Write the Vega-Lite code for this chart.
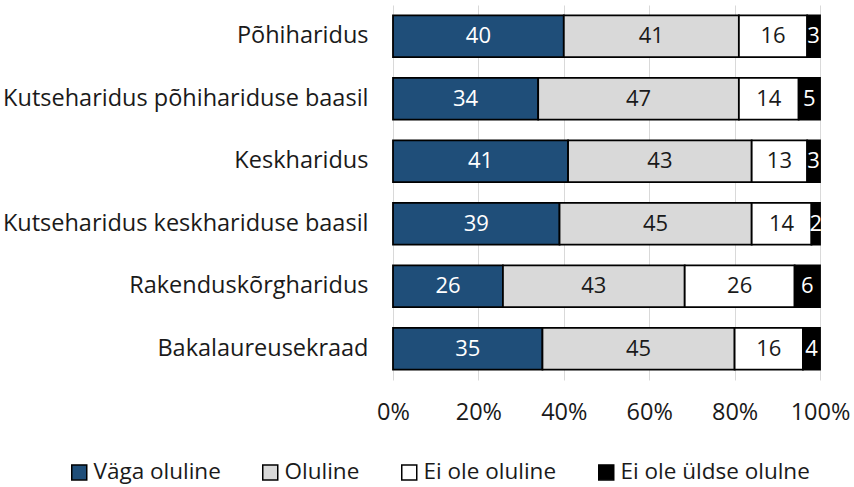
{
  "$schema": "https://vega.github.io/schema/vega-lite/v6.json",
  "width": 427,
  "height": 375,
  "padding": {"left": 2, "top": 5, "right": 30, "bottom": 5},
  "config": {"font": "Open Sans", "view": {"stroke": null}, "text": {"font": "Open Sans"}},
  "data": {
    "values": [
      {"cat": "Põhiharidus", "resp": "Väga oluline", "k": 1, "value": 40},
      {"cat": "Põhiharidus", "resp": "Oluline", "k": 2, "value": 41},
      {"cat": "Põhiharidus", "resp": "Ei ole oluline", "k": 3, "value": 16},
      {"cat": "Põhiharidus", "resp": "Ei ole üldse olulne", "k": 4, "value": 3},
      {"cat": "Kutseharidus põhihariduse baasil", "resp": "Väga oluline", "k": 1, "value": 34},
      {"cat": "Kutseharidus põhihariduse baasil", "resp": "Oluline", "k": 2, "value": 47},
      {"cat": "Kutseharidus põhihariduse baasil", "resp": "Ei ole oluline", "k": 3, "value": 14},
      {"cat": "Kutseharidus põhihariduse baasil", "resp": "Ei ole üldse olulne", "k": 4, "value": 5},
      {"cat": "Keskharidus", "resp": "Väga oluline", "k": 1, "value": 41},
      {"cat": "Keskharidus", "resp": "Oluline", "k": 2, "value": 43},
      {"cat": "Keskharidus", "resp": "Ei ole oluline", "k": 3, "value": 13},
      {"cat": "Keskharidus", "resp": "Ei ole üldse olulne", "k": 4, "value": 3},
      {"cat": "Kutseharidus keskhariduse baasil", "resp": "Väga oluline", "k": 1, "value": 39},
      {"cat": "Kutseharidus keskhariduse baasil", "resp": "Oluline", "k": 2, "value": 45},
      {"cat": "Kutseharidus keskhariduse baasil", "resp": "Ei ole oluline", "k": 3, "value": 14},
      {"cat": "Kutseharidus keskhariduse baasil", "resp": "Ei ole üldse olulne", "k": 4, "value": 2},
      {"cat": "Rakenduskõrgharidus", "resp": "Väga oluline", "k": 1, "value": 26},
      {"cat": "Rakenduskõrgharidus", "resp": "Oluline", "k": 2, "value": 43},
      {"cat": "Rakenduskõrgharidus", "resp": "Ei ole oluline", "k": 3, "value": 26},
      {"cat": "Rakenduskõrgharidus", "resp": "Ei ole üldse olulne", "k": 4, "value": 6},
      {"cat": "Bakalaureusekraad", "resp": "Väga oluline", "k": 1, "value": 35},
      {"cat": "Bakalaureusekraad", "resp": "Oluline", "k": 2, "value": 45},
      {"cat": "Bakalaureusekraad", "resp": "Ei ole oluline", "k": 3, "value": 16},
      {"cat": "Bakalaureusekraad", "resp": "Ei ole üldse olulne", "k": 4, "value": 4}
    ]
  },
  "transform": [
    {"stack": "value", "groupby": ["cat"], "sort": [{"field": "k", "order": "ascending"}], "offset": "normalize", "as": ["x0", "x1"]},
    {"calculate": "(datum.x0 + datum.x1) / 2", "as": "xm"}
  ],
  "encoding": {
    "y": {
      "field": "cat",
      "type": "nominal",
      "sort": ["Põhiharidus", "Kutseharidus põhihariduse baasil", "Keskharidus", "Kutseharidus keskhariduse baasil", "Rakenduskõrgharidus", "Bakalaureusekraad"],
      "scale": {"paddingInner": 0.33, "paddingOuter": 0.165},
      "axis": {"title": null, "ticks": false, "domain": false, "labelPadding": 25, "labelFontSize": 23.5, "labelColor": "#1a1a1a", "labelLimit": 500}
    }
  },
  "layer": [
    {
      "mark": {"type": "bar", "stroke": "#000000", "strokeWidth": 1.8},
      "encoding": {
        "x": {
          "field": "x0", "type": "quantitative",
          "scale": {"domain": [0, 1], "nice": false},
          "axis": {"title": null, "format": ".0%", "values": [0, 0.2, 0.4, 0.6, 0.8, 1], "ticks": false, "domain": false, "grid": true, "gridColor": "#d9d9d9", "gridWidth": 1, "labelPadding": 20, "labelFontSize": 23.5, "labelColor": "#1a1a1a", "labelFlush": false}
        },
        "x2": {"field": "x1"},
        "fill": {
          "field": "resp", "type": "nominal",
          "scale": {"domain": ["Väga oluline", "Oluline", "Ei ole oluline", "Ei ole üldse olulne"], "range": ["#1f4e79", "#d9d9d9", "#ffffff", "#000000"]},
          "legend": {
            "title": null, "orient": "none", "legendX": -325, "legendY": 456, "direction": "horizontal", "columns": 4,
            "symbolType": "square", "symbolSize": 225, "symbolStrokeColor": "#000000", "symbolStrokeWidth": 1.5,
            "labelFontSize": 22.5, "labelColor": "#1a1a1a", "labelOffset": 3, "columnPadding": 38, "labelLimit": 400
          }
        }
      }
    },
    {
      "mark": {"type": "text", "fontSize": 22},
      "encoding": {
        "x": {"field": "xm", "type": "quantitative"},
        "text": {"field": "value", "type": "quantitative"},
        "color": {
          "field": "resp", "type": "nominal",
          "scale": {"domain": ["Väga oluline", "Oluline", "Ei ole oluline", "Ei ole üldse olulne"], "range": ["#ffffff", "#1a1a1a", "#1a1a1a", "#ffffff"]},
          "legend": null
        }
      }
    }
  ],
  "resolve": {"scale": {"color": "independent", "fill": "independent"}}
}
